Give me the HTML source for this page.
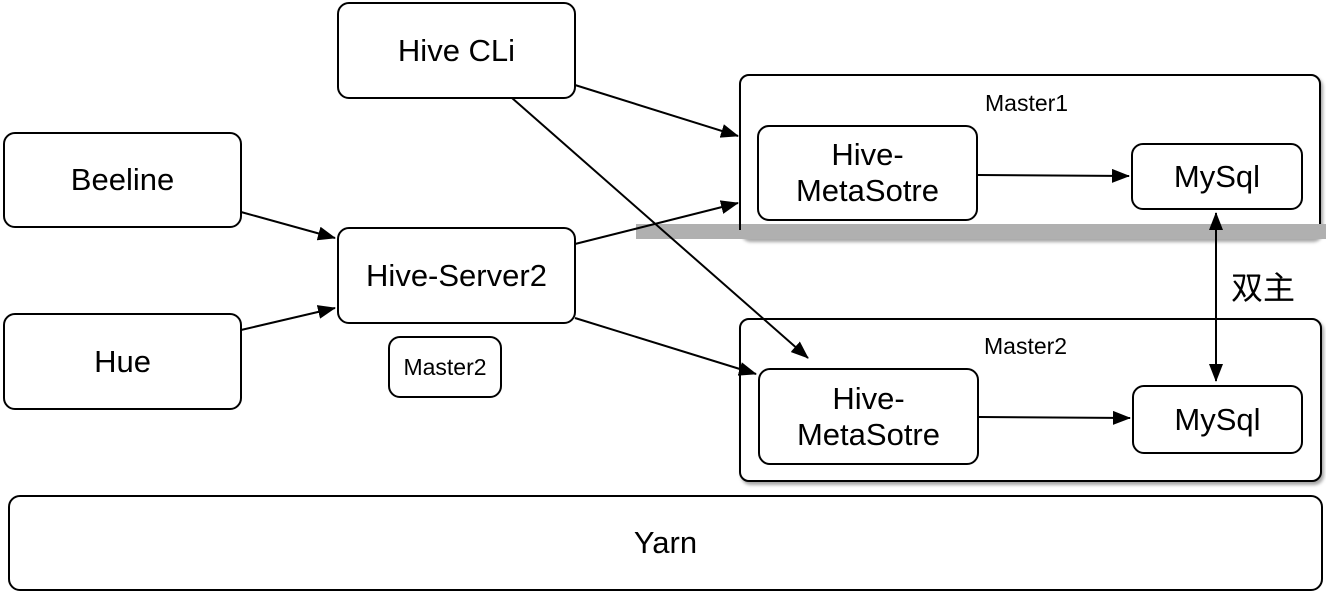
<!DOCTYPE html>
<html><head><meta charset="utf-8"><style>
body{margin:0;background:#fff;width:1326px;height:594px;overflow:hidden;position:relative;font-family:"Liberation Sans","Noto Sans CJK SC",sans-serif}
.b{position:absolute;border:2px solid #000;border-radius:12px;box-sizing:border-box;background:#fff;display:flex;align-items:center;justify-content:center;text-align:center;font-size:31px;line-height:36px;color:#000}
.c{position:absolute;border:2px solid #000;border-radius:10px;box-sizing:border-box;background:#fff;box-shadow:2px 3px 3px rgba(0,0,0,.35)}
.l{position:absolute;font-size:23px;color:#000}
</style></head><body>
<div class="c" style="left:739px;top:74px;width:582px;height:165px"></div>
<div style="position:absolute;left:636px;top:224px;width:690px;height:15px;background:#b0b0b0"></div>
<div style="position:absolute;left:739px;top:200px;width:2px;height:30px;background:#000"></div>
<div class="c" style="left:739px;top:318px;width:583px;height:164px"></div>
<div class="l" style="left:985px;top:90px">Master1</div>
<div class="l" style="left:984px;top:333px">Master2</div>
<div class="b" style="left:337px;top:2px;width:239px;height:97px">Hive CLi</div>
<div class="b" style="left:3px;top:132px;width:239px;height:96px">Beeline</div>
<div class="b" style="left:3px;top:313px;width:239px;height:97px">Hue</div>
<div class="b" style="left:337px;top:227px;width:239px;height:97px">Hive-Server2</div>
<div class="b" style="left:388px;top:336px;width:114px;height:62px;font-size:23px">Master2</div>
<div class="b" style="left:757px;top:125px;width:221px;height:96px">Hive-<br>MetaSotre</div>
<div class="b" style="left:1131px;top:143px;width:172px;height:67px">MySql</div>
<div class="b" style="left:758px;top:368px;width:221px;height:97px">Hive-<br>MetaSotre</div>
<div class="b" style="left:1132px;top:385px;width:171px;height:69px">MySql</div>
<div class="b" style="left:8px;top:495px;width:1315px;height:96px">Yarn</div>
<div class="l" style="left:1231px;top:263px;font-size:32px">双主</div>
<svg width="1326" height="594" style="position:absolute;left:0;top:0">
<defs>
<marker id="s" markerWidth="18" markerHeight="14" refX="17" refY="7" orient="auto-start-reverse" markerUnits="userSpaceOnUse" viewBox="0 0 18 14"><path d="M0,0L18,7L0,14z" fill="#000"/></marker></defs>
<g stroke="#000" stroke-width="2" fill="none">
<line x1="575" y1="85" x2="738" y2="136" marker-end="url(#s)"/>
<line x1="512" y1="98" x2="808" y2="358" marker-end="url(#s)"/>
<line x1="241" y1="212" x2="335" y2="238" marker-end="url(#s)"/>
<line x1="241" y1="330" x2="335" y2="308" marker-end="url(#s)"/>
<line x1="575" y1="244" x2="738" y2="203" marker-end="url(#s)"/>
<line x1="575" y1="318" x2="756" y2="374" marker-end="url(#s)"/>
<line x1="978" y1="175" x2="1129" y2="176" marker-end="url(#s)"/>
<line x1="979" y1="417" x2="1130" y2="418" marker-end="url(#s)"/>
<line x1="1216" y1="213" x2="1216" y2="381" marker-start="url(#s)" marker-end="url(#s)"/>
</g></svg>
</body></html>
